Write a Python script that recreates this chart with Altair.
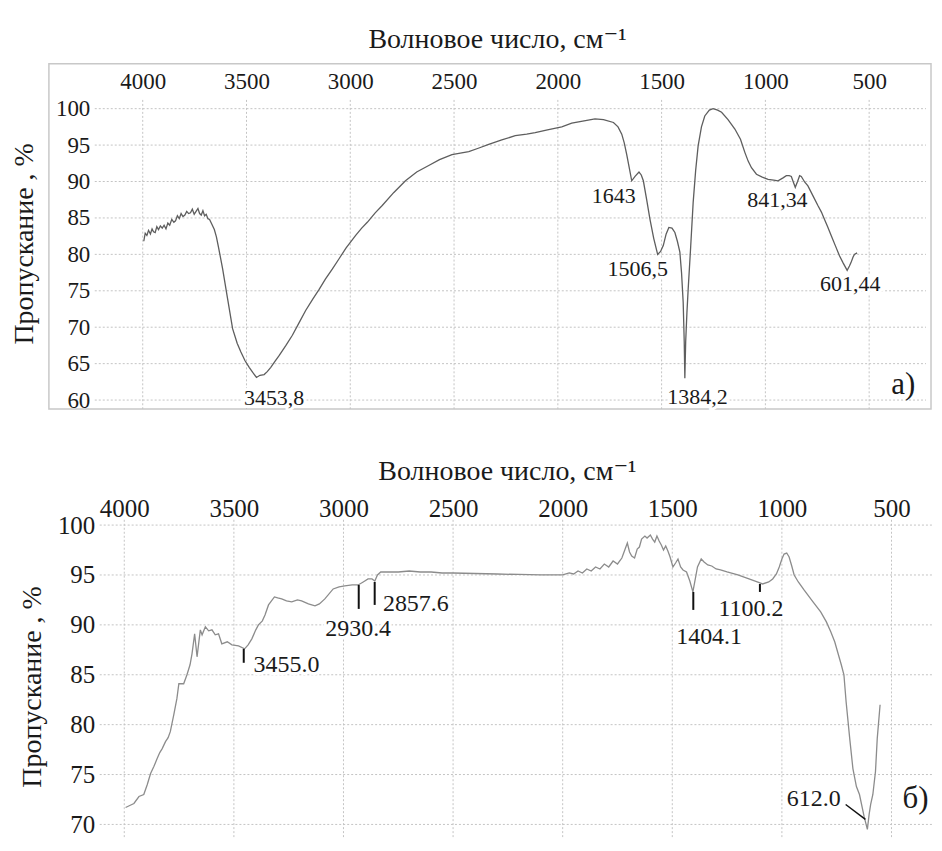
import altair as alt
import pandas as pd

FONT = "'Liberation Serif', 'Times New Roman', 'DejaVu Serif', serif"

# ---------------- data: panel a) ----------------
top_wn = [3995, 3988, 3980, 3972, 3963, 3955, 3948, 3940, 3932, 3924, 3915, 3906, 3897, 3888,
          3879, 3870, 3860, 3850, 3842, 3833, 3824, 3815, 3806, 3797, 3788, 3779, 3770, 3761,
          3752, 3743, 3734, 3726, 3718, 3710, 3702, 3694, 3686, 3678, 3668,
          3655, 3645, 3635, 3615, 3591, 3567, 3545, 3527,
          3507, 3487, 3470, 3452, 3435, 3415, 3400, 3383, 3363, 3343, 3310, 3279, 3247, 3215,
          3180, 3150, 3120, 3086, 3054, 3020, 2974, 2945, 2918, 2880, 2846, 2790, 2734, 2680,
          2622, 2570, 2510, 2470, 2429, 2380, 2333, 2270, 2205, 2150, 2109, 2050, 1981, 1933,
          1880, 1821, 1780, 1732, 1710, 1692, 1680, 1668, 1656, 1644, 1628, 1609, 1598, 1588,
          1572, 1556, 1538, 1519, 1505, 1492, 1478, 1465, 1450, 1436, 1424, 1412, 1404, 1396,
          1391, 1388, 1384, 1378, 1372, 1360, 1348, 1336, 1324, 1308, 1292, 1270, 1252, 1230,
          1211, 1180, 1147, 1120, 1099, 1083, 1067, 1043, 1015, 987, 960, 939, 915, 899, 885,
          875, 865, 856, 845, 835, 827, 810, 795, 770, 747, 730, 715, 700, 683, 663, 643, 625,
          606, 595, 587, 578, 571, 558]
top_t = [81.8, 82.9, 82.6, 83.3, 82.8, 83.5, 83.1, 83.0, 83.8, 83.4, 83.9, 83.6, 84.0, 83.5,
         84.3, 84.0, 84.8, 84.4, 84.6, 85.3, 84.9, 85.6, 85.2, 85.4, 85.9, 85.6, 85.7, 86.2,
         85.5, 85.9, 86.3, 85.6, 85.4, 86.0, 85.3, 85.5, 84.9, 84.8, 84.2,
         83.4, 82.4, 81.0, 78.0, 73.9, 69.8, 67.8, 66.6,
         65.4, 64.5, 63.8, 63.1, 63.4, 63.5, 63.9, 64.5, 65.3, 66.1, 67.5, 68.9, 70.6, 72.3,
         73.9, 75.2, 76.6, 78.0, 79.4, 80.9, 82.6, 83.6, 84.4, 85.7, 86.7, 88.5, 90.1, 91.3,
         92.2, 93.0, 93.7, 93.9, 94.1, 94.6, 95.1, 95.7, 96.3, 96.5, 96.7, 97.1, 97.5, 98.0,
         98.3, 98.6, 98.5, 98.1, 97.5, 96.5, 95.3, 93.7, 91.9, 90.1, 90.7, 91.3, 90.9, 90.1,
         87.5, 84.8, 82.2, 80.0, 80.4, 81.2, 82.8, 83.7, 83.6, 83.0, 81.8, 80.3, 77.5, 73.4,
         68.0, 63.0, 68.0, 72.0, 75.2, 81.0, 87.1, 91.5, 94.9, 97.5, 99.0, 99.8, 100.0, 99.8,
         99.5, 98.5, 97.2, 95.8, 94.0, 92.8, 91.9, 91.0, 90.6, 90.3, 90.2, 90.1, 90.5, 90.8, 90.8,
         90.7, 89.9, 89.2, 90.0, 90.8, 90.7, 89.9, 89.4, 88.0, 86.7, 85.8, 84.8, 83.8, 82.6, 81.2, 79.8, 78.8,
         77.8, 78.4, 78.9, 79.6, 80.0, 80.2]

top_labels = ["3453,8", "1643", "1506,5", "1384,2", "841,34", "601,44"]
top_label_wn = [3367, 1731, 1615, 1327, 942, 591]
top_label_t = [60.3, 88.0, 78.0, 60.4, 87.4, 75.9]

# ---------------- data: panel б) ----------------
bot_wn = [3994, 3975, 3956, 3933, 3911, 3895, 3880, 3865, 3850, 3838, 3827, 3812, 3800, 3790,
          3774, 3760, 3751, 3729, 3714, 3700, 3691, 3679, 3668, 3653, 3645, 3630, 3615, 3600,
          3585, 3570, 3555, 3530, 3509, 3479, 3451, 3435, 3418, 3400, 3388, 3370, 3358, 3342,
          3315, 3300, 3282, 3260, 3236, 3210, 3191, 3160, 3130, 3110, 3085, 3047, 3020, 2994,
          2960, 2933, 2910, 2888, 2870, 2857, 2845, 2830, 2800, 2750, 2700, 2650, 2600, 2550,
          2500, 2400, 2300, 2200, 2100, 2000, 1970, 1950, 1930, 1910, 1890, 1870, 1850, 1830,
          1810, 1790, 1770, 1750, 1730, 1715, 1705, 1695, 1685, 1672, 1660, 1650, 1640, 1625,
          1615, 1600, 1590, 1580, 1570, 1560, 1550, 1540, 1530, 1520, 1510, 1497, 1485, 1474,
          1462, 1451, 1435, 1420, 1406, 1395, 1385, 1368, 1355, 1338, 1320, 1300, 1280, 1250,
          1201, 1150, 1100, 1088, 1060, 1042, 1025, 1012, 1000, 990, 978, 967, 955, 944, 925,
          899, 858, 823, 797, 777, 759, 729, 717, 707, 690, 676, 660, 646, 625, 610, 602, 595,
          585, 573, 565, 552]
bot_t = [71.7, 71.9, 72.1, 72.8, 73.0, 74.0, 75.1, 75.8, 76.6, 77.2, 77.6, 78.3, 78.7, 79.3,
         81.0, 82.6, 84.1, 84.1, 85.0, 86.0, 87.1, 89.1, 86.8, 89.5, 89.0, 89.8, 89.4, 89.5,
         89.0, 89.1, 88.1, 88.3, 88.0, 87.9, 87.6, 88.0, 88.6, 89.5, 90.0, 90.4, 91.0, 92.0,
         92.8, 92.7, 92.6, 92.4, 92.3, 92.5, 92.4, 92.1, 91.9, 92.1, 92.6, 93.6, 93.8, 93.9,
         94.0, 94.0, 94.3, 94.6, 94.6, 94.4, 95.0, 95.3, 95.3, 95.3, 95.4, 95.3, 95.3, 95.2,
         95.2, 95.15, 95.1, 95.05, 95.0, 95.0, 95.2, 95.1, 95.4, 95.2, 95.6, 95.4, 95.8, 95.6,
         96.1, 95.8, 96.4, 96.1, 96.7, 97.6, 98.2, 97.3, 96.9, 96.7, 97.6, 97.8, 98.6, 98.9,
         98.7, 99.0, 98.6, 98.3, 98.9, 98.4, 98.0, 97.5, 97.9, 97.4, 96.8, 95.8, 96.2, 96.6,
         95.8, 95.5, 95.3, 94.4, 93.3, 94.6, 95.8, 96.6, 96.3, 96.0, 95.9, 95.6, 95.5, 95.3,
         95.0, 94.6, 94.2, 94.1, 94.3, 94.6, 95.1, 95.8, 96.6, 97.1, 97.2, 96.8, 95.9, 95.0, 94.3,
         93.5, 92.3, 91.3, 90.3, 89.3, 88.3, 86.0, 85.0, 82.3, 78.5, 75.6, 73.8, 73.0, 70.8, 69.5, 71.0, 72.0,
         73.0, 75.3, 78.6, 82.0]

bot_mark_wn = [3455.0, 2930.4, 2857.6, 1404.1, 1100.2]
bot_mark_t1 = [87.6, 94.0, 94.3, 93.3, 94.1]
bot_mark_t2 = [86.2, 91.6, 92.0, 91.5, 93.3]

bot_labels = ["3455.0", "2930.4", "2857.6", "1404.1", "1100.2", "612.0"]
bot_label_wn = [3410, 2933, 2820, 1332, 1141, 732]
bot_label_t = [86.0, 89.6, 92.1, 88.8, 91.6, 72.5]
bot_label_align = ["left", "center", "left", "center", "center", "right"]

leader_wn = [709]
leader_t = [72.0]
leader_wn2 = [619]
leader_t2 = [70.5]

top_x_ticks = [4000, 3500, 3000, 2500, 2000, 1500, 1000, 500]
top_y_ticks = [60, 65, 70, 75, 80, 85, 90, 95, 100]
bot_y_ticks = [70, 75, 80, 85, 90, 95, 100]

X_TITLE = "Волновое число, см⁻¹"
Y_TITLE = "Пропускание , %"

GRID = "#c4c4c4"
TXT = "#1a1a1a"

# ---------------- panel a) ----------------
tx = alt.Scale(domain=[4452, 202], nice=False, zero=False)
ty = alt.Scale(domain=[58.77, 106.16], nice=False, zero=False)

txa = alt.Axis(
    orient="top", values=top_x_ticks, format="d", grid=False, domain=False, ticks=False,
    tickSize=0, offset=-28, labelPadding=3, labelBaseline="alphabetic",
    labelFont=FONT, labelFontSize=23, labelColor=TXT,
    title=X_TITLE, titleFont=FONT, titleFontSize=28, titleFontWeight="normal",
    titleColor=TXT, titleX=449, titleY=-44, titleAlign="center",
    titleBaseline="alphabetic")
tya = alt.Axis(
    values=top_y_ticks, format="d", grid=False, domain=False, ticks=False, tickSize=0,
    offset=-43, labelPadding=2, labelFont=FONT, labelFontSize=23, labelColor=TXT,
    title=Y_TITLE, titleFont=FONT, titleFontSize=28, titleFontWeight="normal",
    titleColor=TXT, titleX=-67, titleY=180, titleAngle=-90, titleAlign="center",
    titleBaseline="middle")

top_df = pd.DataFrame({"wn": top_wn, "t": top_t})
top_df["idx"] = range(len(top_df))
top_lab_df = pd.DataFrame({"wn": top_label_wn, "t": top_label_t, "txt": top_labels})


def TX(f="wn:Q"):
    return alt.X(f, scale=tx, axis=txa)


def TY(f="t:Q"):
    return alt.Y(f, scale=ty, axis=tya)


t_hgrid = alt.Chart(pd.DataFrame({"t": top_y_ticks})).mark_rule(
    color=GRID, strokeDash=[2, 2], strokeWidth=1).encode(
    y=TY(), x=alt.datum(4231, scale=tx, axis=txa), x2=alt.datum(226))
t_vgrid = alt.Chart(pd.DataFrame({"wn": top_x_ticks})).mark_rule(
    color=GRID, strokeDash=[2, 2], strokeWidth=1).encode(
    x=TX(), y=alt.datum(101.2, scale=ty, axis=tya), y2=alt.datum(58.77))
t_halo = alt.Chart(top_lab_df).mark_text(
    font=FONT, fontSize=22, stroke="white", strokeWidth=6, fill="white",
    align="center", baseline="middle").encode(x=TX(), y=TY(), text="txt:N")
t_line = alt.Chart(top_df).mark_line(color="#5e5e5e", strokeWidth=1.3).encode(
    x=TX(), y=TY(), order=alt.Order("idx:Q"))
t_text = alt.Chart(top_lab_df).mark_text(
    font=FONT, fontSize=22, color=TXT, align="center", baseline="middle").encode(
    x=TX(), y=TY(), text="txt:N")
t_panel = alt.Chart(pd.DataFrame({"wn": [336], "t": [62.0], "txt": ["а)"]})).mark_text(
    font=FONT, fontSize=31, color=TXT, align="center", baseline="middle").encode(
    x=TX(), y=TY(), text="txt:N")

top_chart = alt.layer(t_hgrid, t_vgrid, t_halo, t_line, t_text, t_panel).properties(
    width=884, height=346,
    view=alt.ViewBackground(stroke="#c8c8c8", strokeWidth=1.5))

# ---------------- panel б) ----------------
bx = alt.Scale(domain=[4343.8, 310.6], nice=False, zero=False)
by = alt.Scale(domain=[68.53, 100.53], nice=False, zero=False)

bxa = alt.Axis(
    orient="top", values=top_x_ticks, format="d", grid=False, domain=False, ticks=False,
    tickSize=0, offset=0, labelPadding=3, labelBaseline="alphabetic",
    labelFont=FONT, labelFontSize=25, labelColor=TXT,
    title=X_TITLE, titleFont=FONT, titleFontSize=28, titleFontWeight="normal",
    titleColor=TXT, titleX=459, titleY=-40, titleAlign="center",
    titleBaseline="alphabetic")
bya = alt.Axis(
    values=bot_y_ticks, format="d", grid=False, domain=False, ticks=False, tickSize=0,
    offset=-48, labelPadding=2, labelFont=FONT, labelFontSize=25, labelColor=TXT,
    title=Y_TITLE, titleFont=FONT, titleFontSize=28, titleFontWeight="normal",
    titleColor=TXT, titleX=-64, titleY=167, titleAngle=-90, titleAlign="center",
    titleBaseline="middle")


def BX(f="wn:Q"):
    return alt.X(f, scale=bx, axis=bxa)


def BY(f="t:Q"):
    return alt.Y(f, scale=by, axis=bya)


bot_df = pd.DataFrame({"wn": bot_wn, "t": bot_t})
bot_df["idx"] = range(len(bot_df))
bot_lab_df = pd.DataFrame({"wn": bot_label_wn, "t": bot_label_t, "txt": bot_labels,
                           "al": bot_label_align})
mark_df = pd.DataFrame({"wn": bot_mark_wn, "t1": bot_mark_t1, "t2": bot_mark_t2})
lead_df = pd.DataFrame({"wn": leader_wn, "t": leader_t, "wn2": leader_wn2, "t2": leader_t2})

b_hgrid = alt.Chart(pd.DataFrame({"t": bot_y_ticks})).mark_rule(
    color=GRID, strokeDash=[2, 2], strokeWidth=1).encode(
    y=BY(), x=alt.datum(4112, scale=bx, axis=bxa), x2=alt.datum(310.6))
b_vgrid = alt.Chart(pd.DataFrame({"wn": top_x_ticks})).mark_rule(
    color=GRID, strokeDash=[2, 2], strokeWidth=1).encode(
    x=BX(), y=alt.datum(100.53, scale=by, axis=bya), y2=alt.datum(68.53))

b_layers = [b_hgrid, b_vgrid]
for al in ["left", "center", "right"]:
    sub = bot_lab_df[bot_lab_df["al"] == al]
    b_layers.append(alt.Chart(sub).mark_text(
        font=FONT, fontSize=24, stroke="white", strokeWidth=6, fill="white",
        align=al, baseline="middle").encode(x=BX(), y=BY(), text="txt:N"))

b_layers.append(alt.Chart(bot_df).mark_line(color="#8c8c8c", strokeWidth=1.3).encode(
    x=BX(), y=BY(), order=alt.Order("idx:Q")))
b_layers.append(alt.Chart(mark_df).mark_rule(color="#111111", strokeWidth=2).encode(
    x=BX(), y=BY("t1:Q"), y2="t2:Q"))
b_layers.append(alt.Chart(lead_df).mark_rule(color="#111111", strokeWidth=1.5).encode(
    x=BX(), y=BY(), x2="wn2:Q", y2="t2:Q"))
for al in ["left", "center", "right"]:
    sub = bot_lab_df[bot_lab_df["al"] == al]
    b_layers.append(alt.Chart(sub).mark_text(
        font=FONT, fontSize=24, color=TXT, align=al, baseline="middle").encode(
        x=BX(), y=BY(), text="txt:N"))
b_layers.append(alt.Chart(pd.DataFrame({"wn": [450], "t": [72.5], "txt": ["б)"]})).mark_text(
    font=FONT, fontSize=31, color=TXT, align="left", baseline="middle").encode(
    x=BX(), y=BY(), text="txt:N"))

bot_chart = alt.layer(*b_layers).properties(
    width=886, height=320, view=alt.ViewBackground(stroke=None))

chart = alt.vconcat(top_chart, bot_chart, spacing=111, bounds="flush").properties(
    padding={"left": 2, "top": 16, "right": 0, "bottom": 0},
    background="white")

chart.save("out.html", embed_options={"renderer": "svg", "actions": False})
